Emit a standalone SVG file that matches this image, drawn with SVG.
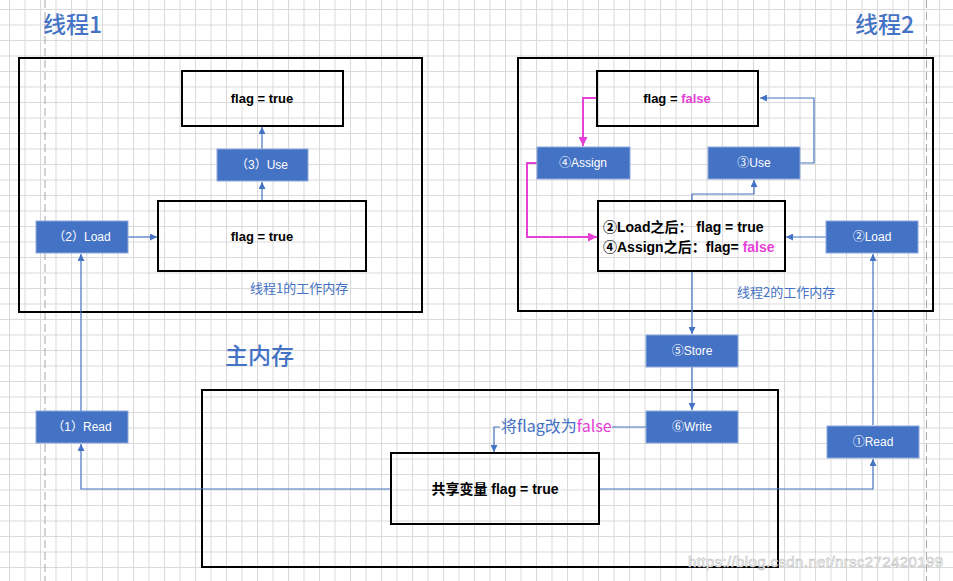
<svg xmlns="http://www.w3.org/2000/svg" width="953" height="581" viewBox="0 0 953 581">
<defs>
<pattern id="grid" patternUnits="userSpaceOnUse" x="9" y="9" width="15.5" height="15.5">
<path d="M0 0.5 H15.5 M0.5 0 V15.5" stroke="#d9d9d9" stroke-width="1" fill="none"/>
</pattern>
<marker id="ab" viewBox="0 0 10 10" refX="10" refY="5" markerWidth="7" markerHeight="7" markerUnits="userSpaceOnUse" orient="auto"><path d="M0 0 L10 5 L0 10 Z" fill="#4472C4"/></marker>
<marker id="ap" viewBox="0 0 10 10" refX="10" refY="5" markerWidth="9" markerHeight="9" markerUnits="userSpaceOnUse" orient="auto"><path d="M0 0 L10 5 L0 10 Z" fill="#E540D8"/></marker>
</defs>
<style>
.frame{fill:none;stroke:#000;stroke-width:2}
.box{fill:none;stroke:#000;stroke-width:2}
.op{fill:#4472C4;stroke:#8EA9DB;stroke-width:1}
.opt{fill:#fff;font-family:"Liberation Sans","Noto Sans CJK SC",sans-serif;font-size:12px;text-anchor:middle;dominant-baseline:central}
.bt{fill:#000;font-family:"Liberation Sans","Noto Sans CJK SC",sans-serif;font-size:13px;font-weight:bold}
.bt2{fill:#000;font-family:"Liberation Sans","Noto Sans CJK SC",sans-serif;font-size:14px;font-weight:bold}
.title{fill:#4472C4;font-family:"Noto Sans CJK SC",sans-serif;font-size:23px;font-weight:500}
.cap{fill:#4472C4;font-family:"Noto Sans CJK SC",sans-serif;font-size:13px}
.pk{fill:#E540D8}
.c{fill:none;stroke:#4472C4;stroke-width:1.2}
.cp{fill:none;stroke:#E540D8;stroke-width:2}
.dash{stroke:#a6a6a6;stroke-width:1;stroke-dasharray:8 4}
</style>
<rect width="953" height="581" fill="#fff"/>
<rect width="953" height="581" fill="url(#grid)"/>
<line class="dash" x1="45" y1="0" x2="45" y2="581"/>
<line class="dash" x1="926.5" y1="0" x2="926.5" y2="581"/>

<text class="title" x="43" y="33">线程1</text>
<text class="title" x="855" y="33">线程2</text>
<text class="title" x="225" y="364" font-size="24">主内存</text>

<g id="thread1">
<rect class="frame" x="19" y="58" width="403" height="254"/>
<text class="cap" x="250" y="293">线程1的工作内存</text>
</g>
<g id="thread2">
<rect class="frame" x="518" y="58" width="415" height="253"/>
<text class="cap" x="737" y="297">线程2的工作内存</text>
</g>
<g id="mainmem">
<rect class="frame" x="202" y="390" width="576" height="177"/>
</g>

<g id="connectors">
<line class="c" x1="262" y1="149" x2="262" y2="127" marker-end="url(#ab)"/>
<line class="c" x1="262" y1="201" x2="262" y2="182" marker-end="url(#ab)"/>
<line class="c" x1="128" y1="237" x2="157" y2="237" marker-end="url(#ab)"/>
<line class="c" x1="81" y1="411" x2="81" y2="254" marker-end="url(#ab)"/>
<polyline class="c" points="391,489 81,489 81,444" marker-end="url(#ab)"/>
<polyline class="c" points="599,489 873,489 873,459" marker-end="url(#ab)"/>
<line class="c" x1="873" y1="425" x2="873" y2="254" marker-end="url(#ab)"/>
<line class="c" x1="826" y1="237" x2="786" y2="237" marker-end="url(#ab)"/>
<polyline class="c" points="692,201 692,194 754,194 754,180" marker-end="url(#ab)"/>
<polyline class="c" points="800,163 814,163 814,98 760,98" marker-end="url(#ab)"/>
<line class="c" x1="692" y1="272" x2="692" y2="334" marker-end="url(#ab)"/>
<line class="c" x1="692" y1="367" x2="692" y2="410" marker-end="url(#ab)"/>
<line class="c" x1="646" y1="427" x2="612" y2="427"/>
<polyline class="c" points="500,427 494,427 494,452" marker-end="url(#ab)"/>
<polyline class="cp" points="597,98 583,98 583,146" marker-end="url(#ap)"/>
<polyline class="cp" points="537,163 527,163 527,237 597,237" marker-end="url(#ap)"/>
<text x="501" y="432" font-family="'Noto Sans CJK SC',sans-serif" font-size="16" fill="#4472C4">将flag改为<tspan class="pk">false</tspan></text>
</g>

<g id="t1-flag-top"><rect class="box" x="182" y="71" width="161" height="55"/><text class="bt" x="262" y="103" text-anchor="middle">flag = true</text></g>
<g id="t1-use"><rect class="op" x="217" y="149" width="91" height="32"/><text class="opt" x="262" y="165">（3）Use</text></g>
<g id="t1-flag-mid"><rect class="box" x="158" y="201" width="208" height="70"/><text class="bt" x="262" y="241" text-anchor="middle">flag = true</text></g>
<g id="t1-load"><rect class="op" x="36" y="221" width="92" height="32"/><text class="opt" x="82" y="237">（2）Load</text></g>
<g id="t1-read"><rect class="op" x="36" y="411" width="92" height="32"/><text class="opt" x="82" y="427">（1）Read</text></g>

<g id="t2-flag-top"><rect class="box" x="597" y="71" width="161" height="55"/><text class="bt" x="677" y="103" text-anchor="middle">flag = <tspan class="pk">false</tspan></text></g>
<g id="t2-assign"><rect class="op" x="537" y="147" width="93" height="32"/><text class="opt" x="583" y="163">④Assign</text></g>
<g id="t2-use"><rect class="op" x="708" y="147" width="92" height="32"/><text class="opt" x="754" y="163">③Use</text></g>
<g id="t2-flag-mid"><rect class="box" x="598" y="201" width="187" height="70"/>
<text class="bt2" x="603" y="232">②Load之后： flag = true</text>
<text class="bt2" x="603" y="252">④Assign之后：flag= <tspan class="pk">false</tspan></text></g>
<g id="t2-load"><rect class="op" x="826" y="221" width="92" height="32"/><text class="opt" x="872" y="237">②Load</text></g>
<g id="store"><rect class="op" x="646" y="335" width="92" height="32"/><text class="opt" x="692" y="351">⑤Store</text></g>
<g id="write"><rect class="op" x="646" y="411" width="92" height="32"/><text class="opt" x="692" y="427">⑥Write</text></g>
<g id="t2-read"><rect class="op" x="827" y="426" width="92" height="32"/><text class="opt" x="873" y="442">①Read</text></g>
<g id="shared"><rect class="box" x="391" y="453" width="208" height="71"/><text class="bt2" x="495" y="494" text-anchor="middle">共享变量 flag = true</text></g>

<text x="688" y="567" font-family="'Liberation Sans',sans-serif" font-size="15" textLength="255" fill="#ffffff" stroke="#c0c0c0" stroke-width="0.6">https://blog.csdn.net/nrsc272420199</text>
</svg>
